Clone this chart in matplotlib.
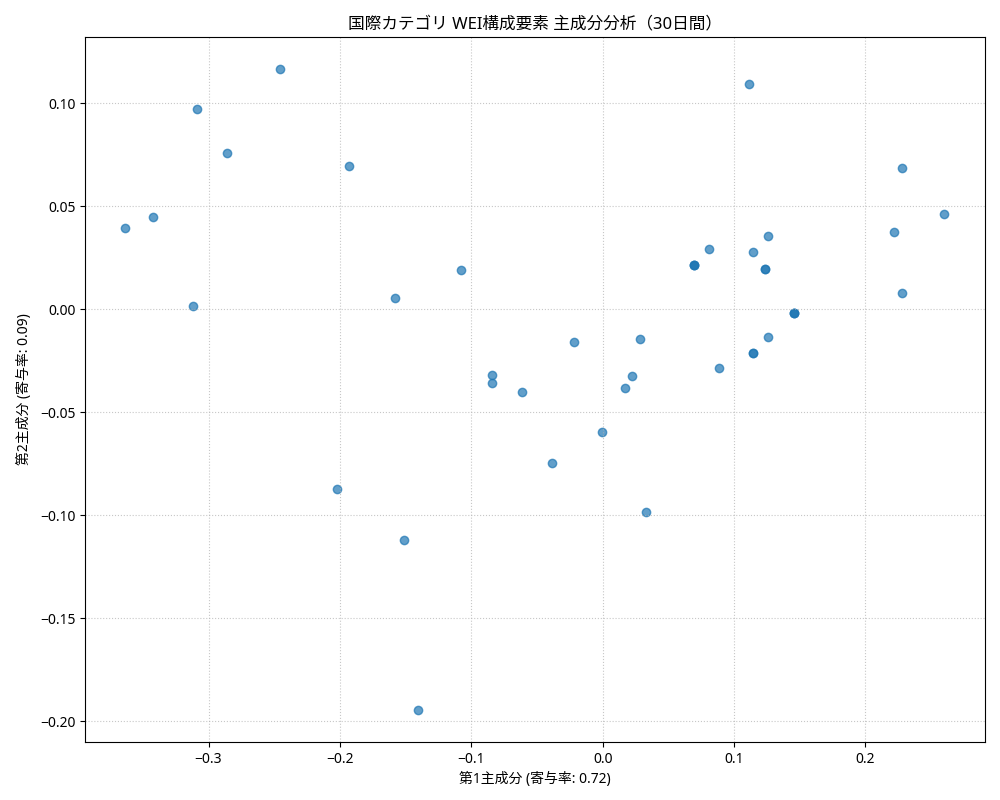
import matplotlib
matplotlib.use("Agg")
import matplotlib.pyplot as plt
import numpy as np

plt.rcParams['font.family'] = ['Noto Sans', 'Noto Sans CJK JP', 'DejaVu Sans']
plt.rcParams['axes.unicode_minus'] = True

pc1 = [-0.2454, -0.3085, -0.2857, -0.1928, -0.3633, -0.3420, -0.3116, -0.1578, -0.1076,
       0.1116, 0.2280, 0.2600, 0.2219, 0.1260, 0.0811, 0.1146,
       0.0697, 0.0697, 0.0697,
       0.1235, 0.1235,
       0.2280,
       0.1458, 0.1458, 0.1458,
       0.1260,
       0.1146, 0.1146,
       0.0887, 0.0284, -0.0216, 0.0225, 0.0172, -0.0840, -0.0840, -0.0612,
       -0.0003, -0.0384, 0.0330, -0.1512, -0.2022, -0.1406]
pc2 = [0.1165, 0.0971, 0.0757, 0.0694, 0.0393, 0.0447, 0.0015, 0.0053, 0.0189,
       0.1092, 0.0684, 0.0461, 0.0374, 0.0354, 0.0291, 0.0277,
       0.0214, 0.0214, 0.0214,
       0.0194, 0.0194,
       0.0078,
       -0.0019, -0.0019, -0.0019,
       -0.0136,
       -0.0214, -0.0214,
       -0.0286, -0.0146, -0.0160, -0.0325, -0.0383, -0.0319, -0.0359, -0.0403,
       -0.0597, -0.0748, -0.0985, -0.1120, -0.0872, -0.1945]

title = "国際カテゴリ WEI構成要素 主成分分析（30日間）"
xlabel = "第1主成分 (寄与率: 0.72)"
ylabel = "第2主成分 (寄与率: 0.09)"

fig = plt.figure(figsize=(10, 8), dpi=100)
ax = fig.add_axes([0.085, 0.0725, 0.90, 0.8813])
ax.scatter(pc1, pc2, alpha=0.7, color='#1f77b4')
ax.set_xlim(-0.394, 0.291)
ax.set_ylim(-0.2101, 0.1322)
ax.set_title(title, fontsize=12)
ax.set_xlabel(xlabel, fontsize=10)
ax.set_ylabel(ylabel, fontsize=10, labelpad=6)
ax.grid(True, linestyle=':', alpha=0.7)
fig.savefig("out.png", dpi=100)
